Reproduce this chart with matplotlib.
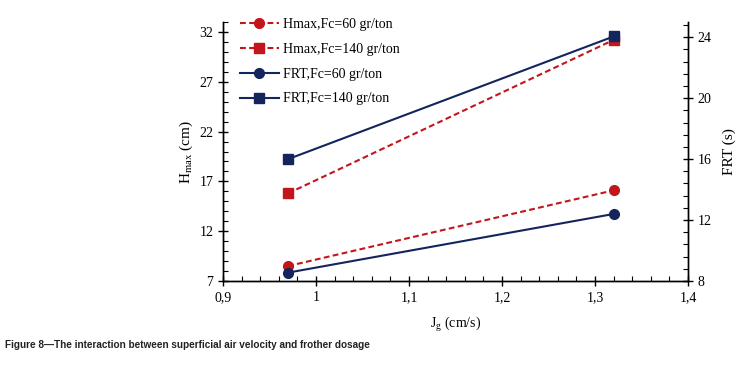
import matplotlib.pyplot as plt
from matplotlib.ticker import MultipleLocator, FuncFormatter

jg = [0.97, 1.32]
hmax_60 = [8.5, 16.1]
hmax_140 = [15.8, 31.2]
frt_60 = [8.55, 12.4]
frt_140 = [16.0, 24.05]
hmax_ticks = [7, 12, 17, 22, 27, 32]

red = '#C3161C'
navy = '#14245C'

plt.rcParams['font.family'] = ['Liberation Serif', 'DejaVu Serif']
plt.rcParams['font.size'] = 10

fig = plt.figure(figsize=(7.42, 3.68), dpi=100)
ax = fig.add_axes([0.3005, 0.2364, 0.6267, 0.7038])
ax2 = ax.twinx()

l1, = ax.plot(jg, hmax_60, '--o', color=red, lw=1.5, ms=7, dashes=(2.8, 1.6), label='Hmax,Fc=60 gr/ton')
l2, = ax.plot(jg, hmax_140, '--s', color=red, lw=1.5, ms=7, dashes=(2.8, 1.6), label='Hmax,Fc=140 gr/ton')
l3, = ax2.plot(jg, frt_60, '-o', color=navy, lw=1.5, ms=7, label='FRT,Fc=60 gr/ton')
l4, = ax2.plot(jg, frt_140, '-s', color=navy, lw=1.5, ms=7, label='FRT,Fc=140 gr/ton')

ax.set_xlim(0.9, 1.4)
ax.set_ylim(7, 33)
ax2.set_ylim(8, 25)

ax.xaxis.set_major_locator(MultipleLocator(0.1))
ax.xaxis.set_minor_locator(MultipleLocator(0.02))
ax.set_yticks(hmax_ticks)
ax.yaxis.set_minor_locator(MultipleLocator(1))
ax2.yaxis.set_major_locator(MultipleLocator(4))
ax2.yaxis.set_minor_locator(MultipleLocator(0.8))

def comma(v, pos):
    s = ('%.1f' % v).rstrip('0').rstrip('.')
    return s.replace('.', ',')

ax.xaxis.set_major_formatter(FuncFormatter(comma))
ax.yaxis.set_major_formatter(FuncFormatter(lambda v, p: '%d' % v))
ax2.yaxis.set_major_formatter(FuncFormatter(lambda v, p: '%d' % v))

for a in (ax, ax2):
    a.spines['top'].set_visible(False)
    for s in a.spines.values():
        s.set_linewidth(1.0)
    a.tick_params(which='major', direction='inout', length=7, width=1.0, labelsize=10)
    a.tick_params(which='minor', direction='in', length=3.5, width=0.8)

ax.set_xlabel('J$_\\mathregular{g}$ (cm/s)', fontsize=10, labelpad=8)
ax.set_ylabel('H$_\\mathregular{max}$ (cm)', fontsize=11, labelpad=3)
ax2.set_ylabel('FRT (s)', fontsize=11, labelpad=8)

fig.legend(handles=[l1, l2, l3, l4], loc='upper left', bbox_to_anchor=(0.3155, 0.966),
           frameon=False, fontsize=10, handlelength=2.8, labelspacing=0.85,
           handletextpad=0.3, borderaxespad=0)

fig.text(0.007, 0.055, 'Figure 8\u2014The interaction between superficial air velocity and frother dosage',
         family=['Liberation Sans Narrow', 'Liberation Sans', 'DejaVu Sans'],
         fontsize=7.2, fontweight='bold', color='#222222')

fig.savefig('out.png', dpi=100)
